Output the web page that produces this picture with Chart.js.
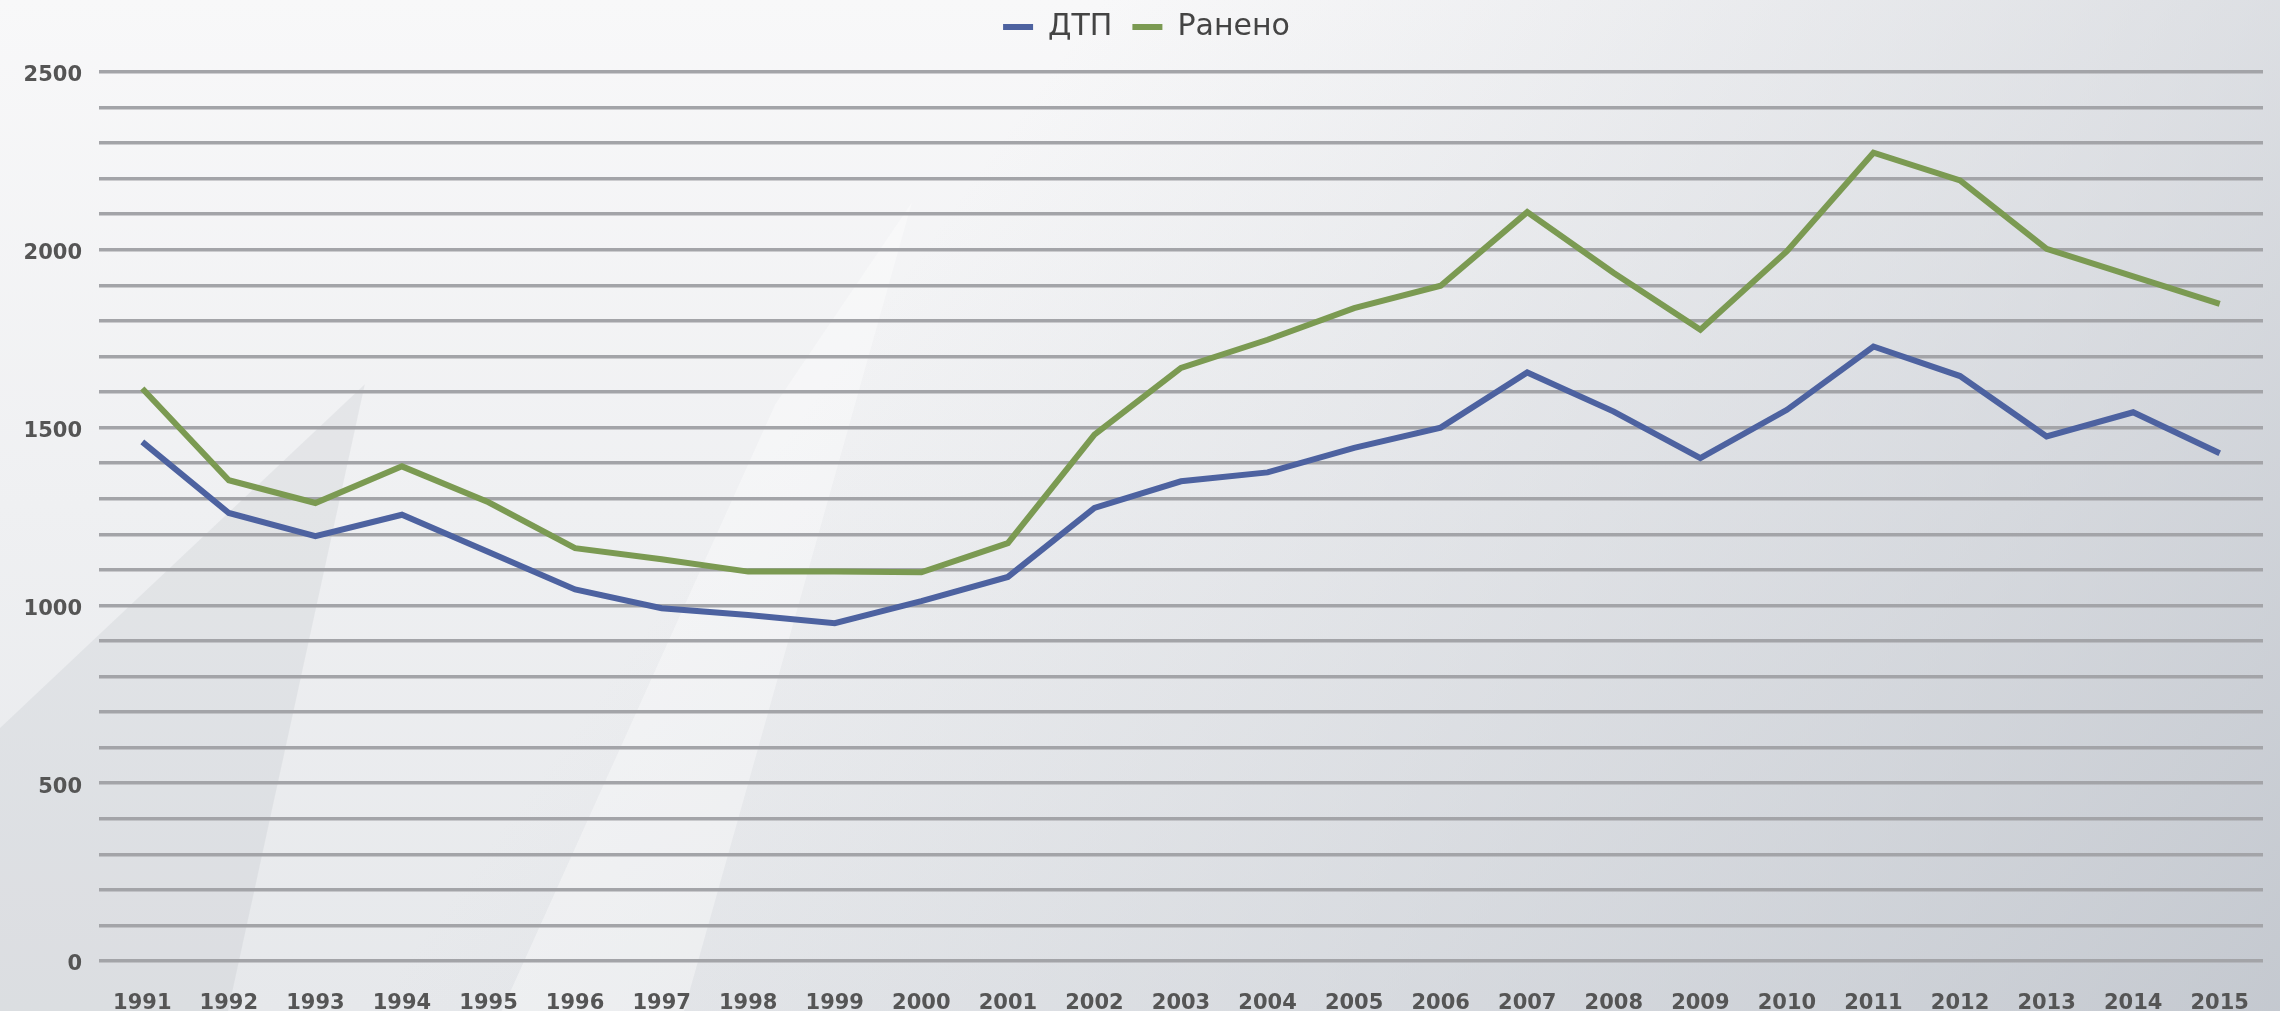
<!DOCTYPE html>
<html lang="ru">
<head>
  <meta charset="UTF-8">
  <title>ДТП и ранено, 1991–2015</title>
  <script src="https://cdn.jsdelivr.net/npm/chart.js"></script>
  <style>
    html, body { margin: 0; padding: 0; background: #e6e8eb; }
  </style>
</head>
<body>
  <canvas id="grafico" width="2280" height="1011"></canvas>

  <script>
    // годы
    const anni = ['1991', '1992', '1993', '1994', '1995', '1996', '1997', '1998', '1999', '2000',
      '2001', '2002', '2003', '2004', '2005', '2006', '2007', '2008', '2009', '2010',
      '2011', '2012', '2013', '2014', '2015'];

    // ДТП
    const dtp = [1460, 1260, 1195, 1255, 1150, 1045, 992, 973, 950, 1012,
      1080, 1274, 1349, 1374, 1443, 1500, 1655, 1545, 1414, 1550,
      1728, 1645, 1475, 1543, 1428];

    // Ранено
    const raneno = [1610, 1352, 1288, 1391, 1290, 1161, 1130, 1095, 1095, 1093,
      1175, 1480, 1668, 1747, 1836, 1899, 2106, 1935, 1775, 1996,
      2273, 2195, 2003, 1925, 1848];

    const yMin = 0;
    const yMax = 2500;
    const yStep = 100;
    const yLabelEvery = 500;

    // sfondo grigio sfumato, come nell'originale
    const sfondo = {
      id: 'sfondo',
      beforeDraw(chart) {
        const c = chart.ctx;
        const w = chart.width, h = chart.height;
        c.save();
        let g = c.createLinearGradient(0, 0, 0, h);
        g.addColorStop(0, '#f8f8f9');
        g.addColorStop(1, '#e6e8eb');
        c.fillStyle = g;
        c.fillRect(0, 0, w, h);
        g = c.createLinearGradient(w * 0.45, h * 0.1, w, h);
        g.addColorStop(0, 'rgba(200,204,211,0)');
        g.addColorStop(1, 'rgba(188,193,201,0.8)');
        c.fillStyle = g;
        c.fillRect(0, 0, w, h);
        // cuneo grigio in basso a sinistra
        c.fillStyle = 'rgba(150,155,165,0.13)';
        c.beginPath();
        c.moveTo(0, h * 0.72);
        c.lineTo(w * 0.16, h * 0.38);
        c.lineTo(w * 0.10, h);
        c.lineTo(0, h);
        c.closePath();
        c.fill();
        // banda chiara diagonale
        c.fillStyle = 'rgba(255,255,255,0.35)';
        c.beginPath();
        c.moveTo(w * 0.22, h);
        c.lineTo(w * 0.34, h * 0.4);
        c.lineTo(w * 0.40, h * 0.2);
        c.lineTo(w * 0.30, h);
        c.closePath();
        c.fill();
        c.restore();
      }
    };

    // altezza fissa della legenda, testo spostato un po'
    const legendaAlta = {
      id: 'legendaAlta',
      beforeInit(chart) {
        const lg = chart.legend;
        const fit = lg.fit;
        lg.fit = function () {
          fit.bind(lg)();
          this.height = 72;
        };
        const draw = lg.draw;
        lg.draw = function () {
          const c = this.ctx;
          c.save();
          c.translate(15, -8);
          draw.apply(this, arguments);
          c.restore();
        };
      }
    };

    const ctx = document.getElementById('grafico').getContext('2d');
    const chart = new Chart(ctx, {
      type: 'line',
      data: {
        labels: anni,
        datasets: [
          {
            label: 'ДТП',
            data: dtp,
            borderColor: '#4d62a0',
            backgroundColor: '#4d62a0',
            borderWidth: 6,
            pointRadius: 0,
            tension: 0,
            fill: false
          },
          {
            label: 'Ранено',
            data: raneno,
            borderColor: '#7b9a52',
            backgroundColor: '#7b9a52',
            borderWidth: 6,
            pointRadius: 0,
            tension: 0,
            fill: false
          }
        ]
      },
      plugins: [sfondo, legendaAlta],
      options: {
        responsive: false,
        animation: false,
        layout: {
          padding: { left: 0, right: 17, top: 0, bottom: 0 }
        },
        plugins: {
          legend: {
            position: 'top',
            labels: {
              usePointStyle: true,
              pointStyle: 'line',
              pointStyleWidth: 30,
              color: '#444',
              font: { family: 'DejaVu Sans', size: 30 },
              padding: 20
            }
          },
          tooltip: { enabled: false }
        },
        scales: {
          x: {
            offset: true,
            grid: { display: false },
            border: { display: false },
            afterFit: (s) => { s.height = 50; },
            ticks: {
              color: '#555',
              font: { family: 'DejaVu Sans', size: 21, weight: 'bold' },
              padding: 22,
              maxRotation: 0,
              autoSkip: false
            }
          },
          y: {
            min: yMin,
            max: yMax,
            border: { display: false },
            afterFit: (s) => { s.width = 99; },
            grid: {
              color: '#a3a4a8',
              lineWidth: 3.5,
              drawTicks: false
            },
            ticks: {
              stepSize: yStep,
              maxTicksLimit: 40,
              autoSkip: false,
              padding: 17,
              labelOffset: 4,
              color: '#555',
              font: { family: 'DejaVu Sans', size: 21, weight: 'bold' },
              callback: (v) => (v % yLabelEvery === 0 ? v : '')
            }
          }
        }
      }
    });
  </script>
</body>
</html>
